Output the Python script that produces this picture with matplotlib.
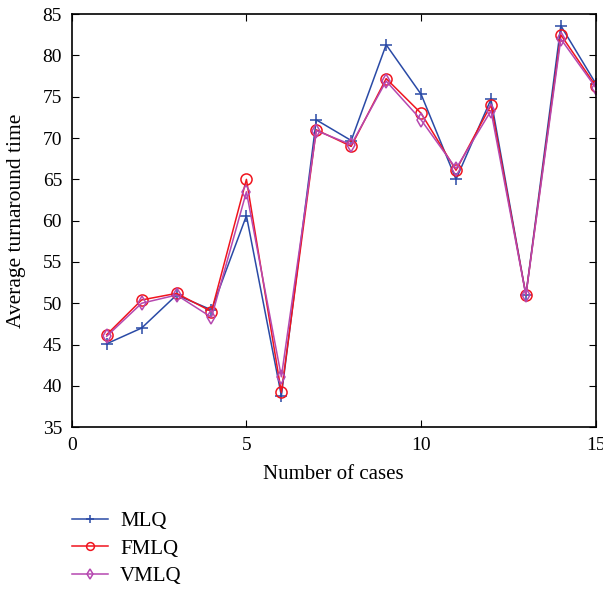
import numpy as np
import matplotlib.pyplot as plt

plt.rcParams['font.family'] = ['Liberation Serif', 'DejaVu Serif']

cases = list(range(1, 16))
mlq = [45.1, 47.0, 51.0, 49.2, 60.6, 38.8, 72.2, 69.7, 81.3, 75.3, 65.0, 74.7, 51.0, 83.6, 76.6]
fmlq = [46.2, 50.4, 51.2, 49.0, 65.0, 39.2, 71.0, 69.0, 77.2, 73.0, 66.1, 74.0, 51.0, 82.5, 76.3]
vmlq = [46.0, 50.0, 51.0, 48.3, 63.5, 41.1, 70.9, 69.2, 76.9, 72.2, 66.3, 73.3, 51.0, 82.0, 76.1]

fig = plt.figure(figsize=(6.03, 5.90), dpi=100)
ax = fig.add_axes([0.119, 0.276, 0.869, 0.700])

ax.plot(cases, mlq, color='#2a4aa6', lw=1.1, marker='+', ms=8, mew=1.1, label='MLQ')
ax.plot(cases, fmlq, color='#f0141e', lw=1.1, marker='o', ms=8, mfc='none', mew=1.1, label='FMLQ')
ax.plot(cases, vmlq, color='#b548b0', lw=1.1, marker='d', ms=7, mfc='none', mew=1.1, label='VMLQ')

ax.set_xlim(0, 15)
ax.set_ylim(35, 85)
ax.set_xticks(np.arange(0, 16, 5))
ax.set_yticks(np.arange(35, 86, 5))
ax.tick_params(direction='in', top=True, right=True, labelsize=14, length=5, pad=7)
for s in ax.spines.values():
    s.set_linewidth(1.2)

ax.set_xlabel('Number of cases', fontsize=15, labelpad=8)
ax.set_ylabel('Average turnaround time', fontsize=15.5, labelpad=12)

fig.legend(loc='upper left', bbox_to_anchor=(0.106, 0.147), frameon=False,
           fontsize=15, handlelength=1.7, handletextpad=0.6, labelspacing=0.38,
           markerscale=0.7, borderaxespad=0)

fig.savefig('out.png', dpi=100)
